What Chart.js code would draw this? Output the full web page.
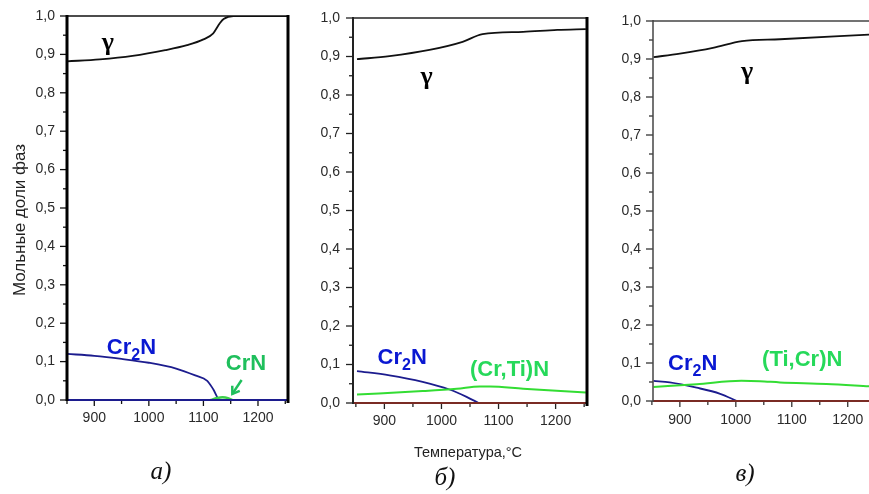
<!DOCTYPE html>
<html><head><meta charset="utf-8">
<script src="https://cdn.jsdelivr.net/npm/chart.js@4.4.1/dist/chart.umd.min.js"></script>
<style>
html,body{margin:0;padding:0;background:#fff;}
#wrap{position:relative;width:869px;height:494px;overflow:hidden;background:#fff;}
canvas{position:absolute;top:0;}
</style></head><body>
<div id="wrap">
<canvas id="ca" width="300" height="494" style="left:0px"></canvas>
<canvas id="cb" width="295" height="494" style="left:300px"></canvas>
<canvas id="cc" width="274" height="494" style="left:595px"></canvas>
</div>
<script>
// ---------- tick values ----------
const xTickValues = [850, 900, 950, 1000, 1050, 1100, 1150, 1200, 1250];
const yTickValues = [0, 0.05, 0.1, 0.15, 0.2, 0.25, 0.3, 0.35, 0.4, 0.45, 0.5, 0.55, 0.6, 0.65, 0.7, 0.75, 0.8, 0.85, 0.9, 0.95, 1.0];

// ---------- panel а) ----------
const gammaA_T = [850, 910, 970, 1030, 1070, 1100, 1118, 1130, 1137, 1155, 1255];
const gammaA_V = [0.882, 0.887, 0.896, 0.911, 0.924, 0.939, 0.955, 0.981, 0.992, 1.0, 1.0];
const cr2nA_T = [850, 900, 950, 1000, 1050, 1085, 1107, 1118, 1130, 1255];
const cr2nA_V = [0.120, 0.115, 0.107, 0.097, 0.082, 0.064, 0.050, 0.028, 0.0, 0.0];
const crnA_T = [1113, 1125, 1135, 1145, 1153];
const crnA_V = [0.0, 0.005, 0.007, 0.005, 0.0];

// ---------- panel б) ----------
const gammaB_T = [852, 909, 979, 1037, 1072, 1143, 1203, 1253];
const gammaB_V = [0.893, 0.901, 0.917, 0.938, 0.958, 0.964, 0.969, 0.971];
const cr2nB_T = [852, 909, 967, 1014, 1044, 1065];
const cr2nB_V = [0.083, 0.072, 0.055, 0.035, 0.016, 0.0];
const crtinB_T = [852, 967, 1027, 1067, 1085, 1143, 1253];
const crtinB_V = [0.022, 0.031, 0.037, 0.043, 0.043, 0.037, 0.027];

// ---------- panel в) ----------
const gammaC_T = [853, 900, 959, 1011, 1079, 1238];
const gammaC_V = [0.905, 0.914, 0.929, 0.947, 0.952, 0.964];
const cr2nC_T = [853, 882, 930, 972, 1002];
const cr2nC_V = [0.053, 0.049, 0.035, 0.019, 0.0];
const ticrnC_T = [853, 930, 1010, 1043, 1079, 1162, 1238];
const ticrnC_V = [0.037, 0.044, 0.053, 0.052, 0.049, 0.045, 0.039];

// ---------- texts ----------
const yTitle = 'Мольные доли фаз';
const xTitle = 'Температура,°C';
const captions = ['а)', 'б)', 'в)'];

const SANS = '"Liberation Sans", Arial, sans-serif';
const SERIF = '"Liberation Serif", "Times New Roman", serif';
const NAVY = '#1c1c8e';
const BLUE_LBL = '#0a18d2';
const BROWN = '#7a2b24';

function pts(T, V) { return T.map((t, i) => ({x: t, y: V[i]})); }
function fmtY(v) { return Math.round(v * 100) % 10 === 0 ? v.toFixed(1).replace('.', ',') : ''; }
function isMajorY(v) { return Math.round(v * 100) % 10 === 0; }

function drawRich(ctx, parts, x, y, color, size) {
  ctx.save();
  ctx.fillStyle = color; ctx.textBaseline = 'middle'; ctx.textAlign = 'left';
  let cx = x;
  for (const p of parts) {
    const fs = p.sub ? Math.round(size * 0.72) : size;
    ctx.font = 'bold ' + fs + 'px ' + SANS;
    ctx.fillText(p.t, cx, y + (p.sub ? size * 0.36 : 0));
    cx += ctx.measureText(p.t).width;
  }
  ctx.restore();
}

function line(ctx, x1, y1, x2, y2, color, w) {
  ctx.save(); ctx.strokeStyle = color; ctx.lineWidth = w; ctx.lineCap = 'butt';
  ctx.beginPath(); ctx.moveTo(x1, y1); ctx.lineTo(x2, y2); ctx.stroke(); ctx.restore();
}

function makeChart(id, cfg) {
  const H = 494, xH = 40;
  const a = cfg.area;
  const plugin = {
    id: 'deco_' + id,
    afterDatasetsDraw(chart) {
      const ctx = chart.ctx, ca = chart.chartArea;
      const xs = chart.scales.x, ys = chart.scales.y;
      // y ticks
      for (const v of yTickValues) {
        const py = ys.getPixelForValue(v);
        const len = isMajorY(v) ? 7 : 4;
        line(ctx, ca.left - len, py, ca.left, py, cfg.tickColor, 1.3);
      }
      // x ticks
      for (const v of xTickValues) {
        if (v < cfg.xmin - 5 || v > cfg.xmax) continue;
        const px = xs.getPixelForValue(v);
        const len = v % 100 === 0 ? 6 : 4;
        line(ctx, px, ca.bottom, px, ca.bottom + len, cfg.tickColor, 1.3);
      }
      // frame
      const f = cfg.frame;
      line(ctx, ca.left, ca.top, ca.right, ca.top, f.topColor, f.topW);
      line(ctx, ca.left, ca.bottom, ca.right, ca.bottom, f.bottomColor, f.bottomW);
      line(ctx, ca.left, ca.top - 1, ca.left, ca.bottom + 1, f.leftColor, f.leftW);
      if (f.rightW) line(ctx, ca.right, ca.top - 1, ca.right, ca.bottom + 3, f.rightColor, f.rightW);
      // labels
      for (const L of cfg.labels) {
        const px = xs.getPixelForValue(L.x), py = ys.getPixelForValue(L.y);
        if (L.greek) {
          ctx.save(); ctx.fillStyle = '#000'; ctx.font = 'bold 26px ' + SERIF;
          ctx.textAlign = 'center'; ctx.textBaseline = 'middle';
          ctx.fillText(L.greek, px, py); ctx.restore();
        } else {
          drawRich(ctx, L.parts, px, py, L.color, 22);
        }
      }
      // arrow
      if (cfg.arrow) {
        const A = cfg.arrow;
        const x1 = xs.getPixelForValue(A.x1), y1 = ys.getPixelForValue(A.y1);
        const x2 = xs.getPixelForValue(A.x2), y2 = ys.getPixelForValue(A.y2);
        line(ctx, x1, y1, x2, y2, A.color, 2.5);
        const ang = Math.atan2(y2 - y1, x2 - x1);
        ctx.save(); ctx.strokeStyle = A.color; ctx.lineWidth = 2.5;
        ctx.beginPath();
        ctx.moveTo(x2 - 8 * Math.cos(ang - 0.6), y2 - 8 * Math.sin(ang - 0.6));
        ctx.lineTo(x2, y2);
        ctx.lineTo(x2 - 8 * Math.cos(ang + 0.6), y2 - 8 * Math.sin(ang + 0.6));
        ctx.stroke(); ctx.restore();
      }
      // titles & caption
      if (cfg.yTitle) {
        ctx.save(); ctx.translate(cfg.yTitle.x, cfg.yTitle.y); ctx.rotate(-Math.PI / 2);
        ctx.fillStyle = '#222'; ctx.font = '17px ' + SANS; ctx.textAlign = 'center'; ctx.textBaseline = 'middle';
        ctx.fillText(yTitle, 0, 0); ctx.restore();
      }
      if (cfg.xTitle) {
        ctx.save(); ctx.fillStyle = '#222'; ctx.font = '14.5px ' + SANS; ctx.textAlign = 'center'; ctx.textBaseline = 'middle';
        ctx.fillText(xTitle, cfg.xTitle.x, cfg.xTitle.y); ctx.restore();
      }
      ctx.save(); ctx.fillStyle = '#111'; ctx.font = 'italic 25px ' + SERIF; ctx.textAlign = 'center'; ctx.textBaseline = 'middle';
      ctx.fillText(cfg.caption.t, cfg.caption.x, cfg.caption.y); ctx.restore();
    }
  };
  return new Chart(document.getElementById(id), {
    type: 'line',
    data: {
      datasets: cfg.series.map(s => ({
        data: pts(s.T, s.V),
        borderColor: s.color, borderWidth: s.width,
        pointRadius: 0, fill: false, cubicInterpolationMode: 'monotone'
      }))
    },
    options: {
      responsive: false, animation: false, events: [],
      layout: {padding: {left: 0, top: a.t, right: cfg.w - a.r, bottom: H - a.b - xH}},
      plugins: {legend: {display: false}, tooltip: {enabled: false}},
      scales: {
        x: {
          type: 'linear', min: cfg.xmin, max: cfg.xmax,
          afterBuildTicks: s => { s.ticks = xTickValues.filter(v => v >= cfg.xmin - 5 && v <= cfg.xmax).map(v => ({value: v})); },
          afterFit: s => { s.height = xH; s.paddingLeft = s.paddingRight = s.paddingTop = s.paddingBottom = 0; },
          grid: {display: false, drawTicks: false}, border: {display: false},
          ticks: {padding: cfg.xpad, color: '#2a2a2a', font: {family: SANS, size: 14}, autoSkip: false, maxRotation: 0,
                  callback: v => (v % 100 === 0 ? String(v) : '')}
        },
        y: {
          min: 0, max: 1,
          afterBuildTicks: s => { s.ticks = yTickValues.map(v => ({value: v})); },
          afterFit: s => { s.width = a.l; s.paddingLeft = s.paddingRight = s.paddingTop = s.paddingBottom = 0; },
          grid: {display: false, drawTicks: false}, border: {display: false},
          ticks: {padding: cfg.ypad, color: '#2a2a2a', font: {family: SANS, size: 14}, autoSkip: false,
                  callback: v => fmtY(v)}
        }
      }
    },
    plugins: [plugin]
  });
}

const GREEN_A = '#3ccf4a', GREEN_LBL_A = '#1fbf5c';
const GREEN_B = '#33dd33', GREEN_LBL_B = '#26d95a';

makeChart('ca', {
  w: 300, area: {l: 67, t: 16, r: 288, b: 400}, xmin: 850, xmax: 1255, xpad: 10, ypad: 12,
  tickColor: '#111',
  frame: {topColor: '#111', topW: 1.5, bottomColor: NAVY, bottomW: 2, leftColor: '#000', leftW: 3, rightColor: '#000', rightW: 3},
  series: [
    {T: gammaA_T, V: gammaA_V, color: '#111', width: 1.8},
    {T: crnA_T, V: crnA_V, color: GREEN_A, width: 2.5},
    {T: cr2nA_T, V: cr2nA_V, color: NAVY, width: 1.8}
  ],
  labels: [
    {greek: 'γ', x: 925, y: 0.93},
    {parts: [{t: 'Cr'}, {t: '2', sub: true}, {t: 'N'}], x: 923, y: 0.135, color: BLUE_LBL},
    {parts: [{t: 'CrN'}], x: 1141, y: 0.095, color: GREEN_LBL_A}
  ],
  arrow: {x1: 1170, y1: 0.052, x2: 1153, y2: 0.016, color: GREEN_LBL_A},
  yTitle: {x: 20, y: 220},
  caption: {t: captions[0], x: 161, y: 472}
});

makeChart('cb', {
  w: 295, area: {l: 53, t: 18, r: 287, b: 403}, xmin: 845, xmax: 1255, xpad: 10, ypad: 13,
  tickColor: '#222',
  frame: {topColor: '#222', topW: 1.5, bottomColor: BROWN, bottomW: 2, leftColor: '#222', leftW: 2, rightColor: '#000', rightW: 3},
  series: [
    {T: gammaB_T, V: gammaB_V, color: '#111', width: 1.8},
    {T: crtinB_T, V: crtinB_V, color: GREEN_B, width: 2},
    {T: cr2nB_T, V: cr2nB_V, color: NAVY, width: 1.8}
  ],
  labels: [
    {greek: 'γ', x: 974, y: 0.847},
    {parts: [{t: 'Cr'}, {t: '2', sub: true}, {t: 'N'}], x: 888, y: 0.117, color: BLUE_LBL},
    {parts: [{t: '(Cr,Ti)N'}], x: 1050, y: 0.085, color: GREEN_LBL_B}
  ],
  xTitle: {x: 168, y: 453},
  caption: {t: captions[1], x: 145, y: 478}
});

makeChart('cc', {
  w: 274, area: {l: 58, t: 21, r: 274, b: 401}, xmin: 852, xmax: 1238, xpad: 11, ypad: 12,
  tickColor: '#333',
  frame: {topColor: '#444', topW: 1.5, bottomColor: BROWN, bottomW: 2, leftColor: '#444', leftW: 1.5, rightW: 0},
  series: [
    {T: gammaC_T, V: gammaC_V, color: '#111', width: 1.8},
    {T: ticrnC_T, V: ticrnC_V, color: GREEN_B, width: 2},
    {T: cr2nC_T, V: cr2nC_V, color: NAVY, width: 1.8}
  ],
  labels: [
    {greek: 'γ', x: 1020, y: 0.865},
    {parts: [{t: 'Cr'}, {t: '2', sub: true}, {t: 'N'}], x: 879, y: 0.097, color: BLUE_LBL},
    {parts: [{t: '(Ti,Cr)N'}], x: 1047, y: 0.107, color: GREEN_LBL_B}
  ],
  caption: {t: captions[2], x: 150, y: 474}
});
</script>
</body></html>
